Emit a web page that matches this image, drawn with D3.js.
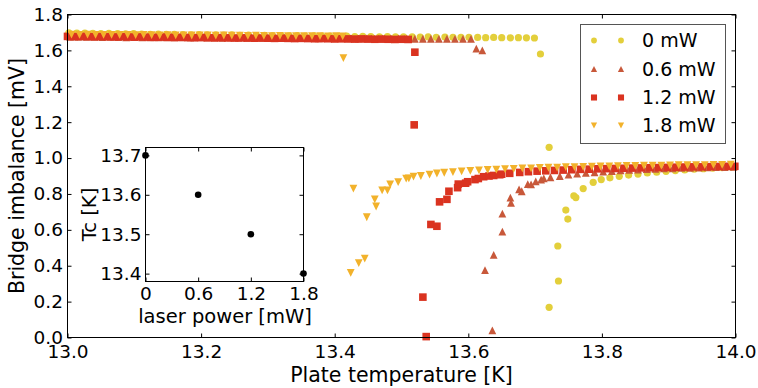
<!DOCTYPE html>
<html><head><meta charset="utf-8">
<script src="https://cdn.jsdelivr.net/npm/d3@7/dist/d3.min.js"></script>
<style>
html,body{margin:0;padding:0;background:#fff;}
svg{display:block;font-family:"DejaVu Sans",sans-serif;}
</style></head>
<body><svg id="chart" width="758" height="388"></svg>
<script>
// ---------------- data ----------------
const seriesLabels = ["0 mW", "0.6 mW", "1.2 mW", "1.8 mW"];
const seriesColors = ["#e3cf3b", "#c8583a", "#da3320", "#f2b22b"];
const seriesShapes = ["circle", "triangleUp", "square", "triangleDown"];

const temp0 = [13.002,13.014,13.026,13.038,13.050,13.062,13.075,13.087,13.099,13.111,13.124,13.136,13.148,13.160,13.173,13.185,13.197,13.209,13.222,13.234,13.246,13.258,13.271,13.283,13.295,13.307,13.320,13.332,13.344,13.356,13.369,13.381,13.393,13.405,13.418,13.430,13.442,13.454,13.467,13.479,13.491,13.503,13.516,13.528,13.540,13.552,13.565,13.577,13.589,13.601,13.614,13.626,13.638,13.650,13.663,13.675,13.687,13.699,
  13.708,13.721,13.721,13.734,13.735,13.746,13.749,13.758,13.761,13.772,13.787,13.799,13.812,13.826,13.840,13.854,13.868,13.882,13.896,13.910,13.924,13.938,13.952,13.966,13.980,13.994];
const imb0 = [1.698,1.696,1.697,1.695,1.694,1.695,1.693,1.692,1.693,1.691,1.690,1.691,1.689,1.690,1.688,1.687,1.688,1.686,1.687,1.685,1.686,1.684,1.685,1.683,1.684,1.682,1.683,1.681,1.682,1.680,1.681,1.679,1.680,1.678,1.679,1.677,1.678,1.677,1.676,1.677,1.675,1.676,1.675,1.674,1.675,1.673,1.674,1.673,1.672,1.673,1.672,1.671,1.672,1.671,1.670,1.671,1.670,1.669,
  1.580,1.060,0.168,0.510,0.315,0.710,0.660,0.790,0.780,0.830,0.865,0.880,0.890,0.898,0.905,0.911,0.917,0.921,0.926,0.930,0.934,0.938,0.941,0.944,0.947,0.950];

const temp06 = [13.004,13.016,13.028,13.040,13.052,13.064,13.076,13.088,13.100,13.112,13.124,13.136,13.148,13.160,13.172,13.184,13.196,13.208,13.220,13.232,13.244,13.256,13.268,13.280,13.292,13.304,13.316,13.328,13.340,13.352,13.364,13.376,13.388,13.400,13.412,13.424,13.436,13.448,13.460,13.472,13.484,13.496,13.508,13.520,13.532,13.544,13.556,13.568,13.580,13.592,13.604,
  13.612,13.621,13.625,13.636,13.638,13.651,13.651,13.663,13.664,13.676,13.680,13.689,13.694,13.701,13.709,13.713,13.723,13.737,13.750,13.763,13.776,13.789,13.802,13.815,13.828,13.841,13.854,13.867,13.880,13.893,13.906,13.919,13.932,13.945,13.958,13.971,13.984,13.997];
const imb06 = [1.676,1.675,1.676,1.675,1.674,1.675,1.674,1.673,1.674,1.673,1.673,1.672,1.673,1.672,1.672,1.671,1.672,1.671,1.671,1.670,1.671,1.670,1.670,1.669,1.670,1.669,1.669,1.668,1.669,1.668,1.668,1.667,1.668,1.667,1.667,1.667,1.666,1.667,1.666,1.666,1.666,1.665,1.666,1.665,1.665,1.665,1.664,1.665,1.664,1.664,1.664,
  1.610,1.600,0.375,0.040,0.460,0.590,0.690,0.780,0.750,0.825,0.815,0.855,0.853,0.870,0.880,0.887,0.893,0.900,0.908,0.913,0.917,0.921,0.925,0.928,0.931,0.934,0.936,0.938,0.940,0.942,0.943,0.945,0.946,0.947,0.948,0.949,0.950,0.951];

const temp12 = [13.000,13.010,13.020,13.030,13.040,13.050,13.060,13.070,13.080,13.090,13.100,13.110,13.120,13.130,13.140,13.150,13.160,13.170,13.180,13.190,13.200,13.210,13.220,13.230,13.240,13.250,13.260,13.270,13.280,13.290,13.300,13.310,13.320,13.330,13.340,13.350,13.360,13.370,13.380,13.390,13.400,13.410,13.420,13.430,13.440,13.450,13.460,13.470,13.480,13.490,13.500,13.510,
  13.520,13.519,13.532,13.537,13.544,13.553,13.557,13.568,13.571,13.584,13.585,13.596,13.599,13.610,13.615,13.623,13.631,13.638,13.647,13.650,13.662,13.677,13.690,13.703,13.716,13.729,13.742,13.755,13.768,13.781,13.794,13.807,13.820,13.833,13.846,13.859,13.872,13.885,13.898,13.911,13.924,13.937,13.950,13.963,13.976,13.989,13.999];
const imb12 = [1.678,1.677,1.678,1.677,1.676,1.677,1.676,1.675,1.676,1.675,1.674,1.675,1.674,1.673,1.674,1.673,1.672,1.673,1.672,1.671,1.672,1.671,1.670,1.671,1.670,1.669,1.670,1.669,1.668,1.669,1.668,1.667,1.668,1.667,1.666,1.667,1.666,1.665,1.666,1.665,1.664,1.665,1.664,1.663,1.664,1.663,1.662,1.663,1.662,1.661,1.662,1.661,
  1.590,1.185,0.225,0.005,0.630,0.620,0.756,0.770,0.815,0.835,0.855,0.860,0.868,0.880,0.886,0.896,0.900,0.903,0.907,0.910,0.915,0.920,0.924,0.927,0.929,0.931,0.933,0.935,0.937,0.938,0.940,0.941,0.942,0.943,0.944,0.945,0.946,0.947,0.948,0.949,0.950,0.951,0.951,0.952,0.953,0.954,0.954];

const temp18 = [13.006,13.018,13.030,13.042,13.054,13.066,13.078,13.090,13.102,13.114,13.126,13.138,13.150,13.162,13.174,13.186,13.198,13.210,13.222,13.234,13.246,13.258,13.270,13.282,13.294,13.306,13.318,13.330,13.342,13.354,13.366,13.378,13.390,13.402,13.412,
  13.413,13.424,13.428,13.436,13.445,13.448,13.460,13.462,13.471,13.479,13.483,13.495,13.507,13.511,13.518,13.529,13.542,13.553,13.564,13.577,13.590,13.603,13.616,13.629,13.642,13.655,13.668,13.681,13.694,13.707,13.720,13.733,13.746,13.759,13.772,13.785,13.798,13.811,13.824,13.837,13.850,13.863,13.876,13.889,13.902,13.915,13.928,13.941,13.954,13.967,13.980,13.993];
const imb18 = [1.688,1.687,1.688,1.687,1.686,1.687,1.686,1.686,1.685,1.686,1.685,1.684,1.685,1.684,1.684,1.683,1.684,1.683,1.682,1.683,1.682,1.682,1.681,1.682,1.681,1.680,1.681,1.680,1.680,1.679,1.680,1.679,1.678,1.679,1.678,
  1.557,0.360,0.830,0.415,0.440,0.670,0.770,0.730,0.820,0.820,0.853,0.866,0.885,0.887,0.896,0.900,0.908,0.914,0.918,0.922,0.926,0.929,0.931,0.934,0.936,0.938,0.940,0.942,0.943,0.945,0.946,0.947,0.949,0.950,0.951,0.952,0.953,0.954,0.955,0.956,0.956,0.957,0.958,0.958,0.959,0.960,0.960,0.961,0.961,0.962,0.962,0.963];

const seriesTemps = [temp0, temp06, temp12, temp18];
const seriesImb = [imb0, imb06, imb12, imb18];

const xTicks = [13.0, 13.2, 13.4, 13.6, 13.8, 14.0];
const yTicks = [0.0, 0.2, 0.4, 0.6, 0.8, 1.0, 1.2, 1.4, 1.6, 1.8];

// inset
const laserPower = [0, 0.6, 1.2, 1.8];
const tcValues = [13.7, 13.6, 13.5, 13.4];
const insetXTicks = [0, 0.6, 1.2, 1.8];
const insetXTickLabels = ["0", "0.6", "1.2", "1.8"];
const insetYTicks = [13.4, 13.5, 13.6, 13.7];

// ---------------- drawing ----------------
const svg = d3.select("#chart");
const M = {left: 67.5, right: 735.5, top: 14.5, bottom: 337.5};
const x = d3.scaleLinear().domain([13, 14]).range([M.left, M.right]);
const y = d3.scaleLinear().domain([0, 1.8]).range([M.bottom, M.top]);

const tickFont = 18.5, labelFont = 20.5;

function markerPath(shape, s) {
  const h = s / 2;
  if (shape === "circle") return d3.symbol(d3.symbolCircle, Math.PI * h * h)();
  if (shape === "square") return `M${-h},${-h}H${h}V${h}H${-h}Z`;
  if (shape === "triangleUp") return `M0,${-h}L${h},${h}L${-h},${h}Z`;
  return `M0,${h}L${h},${-h}L${-h},${-h}Z`;
}
const markerSize = [7.2, 7.8, 7.6, 7.8];

const plotG = svg.append("g");
seriesTemps.forEach((temps, i) => {
  const pts = temps.map((t, j) => [t, seriesImb[i][j]]);
  plotG.append("g").selectAll("path").data(pts).join("path")
    .attr("d", markerPath(seriesShapes[i], markerSize[i]))
    .attr("transform", d => `translate(${x(d[0])},${y(d[1])})`)
    .attr("fill", seriesColors[i]);
});

// axes (matplotlib classic: ticks inward on all sides)
const tl = 4;
const axG = svg.append("g");
axG.append("g").attr("transform", `translate(0,${M.bottom})`)
  .call(d3.axisBottom(x).tickValues(xTicks).tickFormat(d3.format(".1f")).tickSizeInner(-tl).tickSizeOuter(0).tickPadding(7));
axG.append("g").attr("transform", `translate(0,${M.top})`)
  .call(d3.axisTop(x).tickValues(xTicks).tickFormat("").tickSizeInner(-tl).tickSizeOuter(0));
axG.append("g").attr("transform", `translate(${M.left},0)`)
  .call(d3.axisLeft(y).tickValues(yTicks).tickFormat(d3.format(".1f")).tickSizeInner(-tl).tickSizeOuter(0).tickPadding(4.5));
axG.append("g").attr("transform", `translate(${M.right},0)`)
  .call(d3.axisRight(y).tickValues(yTicks).tickFormat("").tickSizeInner(-tl).tickSizeOuter(0));
axG.selectAll(".domain").remove();
axG.selectAll("text").attr("font-size", tickFont).attr("font-family", "DejaVu Sans").attr("fill", "#000");
axG.selectAll(".tick line").attr("stroke", "#000");
svg.append("rect").attr("x", M.left).attr("y", M.top).attr("width", M.right - M.left).attr("height", M.bottom - M.top)
  .attr("fill", "none").attr("stroke", "#000").attr("stroke-width", 1);

svg.append("text").attr("x", (M.left + M.right) / 2).attr("y", 382).attr("text-anchor", "middle")
  .attr("font-size", labelFont).text("Plate temperature [K]");
svg.append("text").attr("transform", `translate(24,${(M.top + M.bottom) / 2}) rotate(-90)`).attr("text-anchor", "middle")
  .attr("font-size", labelFont).text("Bridge imbalance [mV]");

// legend
const lg = svg.append("g");
lg.append("rect").attr("x", 580.5).attr("y", 24.5).attr("width", 145).attr("height", 119)
  .attr("fill", "#fff").attr("stroke", "#555").attr("stroke-width", 1);
const rowY = [40.5, 69, 97.5, 125.5];
seriesLabels.forEach((lab, i) => {
  [594, 621].forEach(mx => {
    lg.append("path").attr("d", markerPath(seriesShapes[i], markerSize[i] * 0.8))
      .attr("transform", `translate(${mx},${rowY[i]})`).attr("fill", seriesColors[i]);
  });
  lg.append("text").attr("x", 642).attr("y", rowY[i]).attr("dy", "0.36em")
    .attr("font-size", 19).text(lab);
});

// inset
const IN = {left: 145.5, right: 303.5, top: 147.5, bottom: 281.5};
const ix = d3.scaleLinear().domain([0, 1.8]).range([IN.left, IN.right]);
const iy = d3.scaleLinear().domain([13.38, 13.72]).range([IN.bottom, IN.top]);
const ig = svg.append("g");
ig.append("rect").attr("x", IN.left).attr("y", IN.top).attr("width", IN.right - IN.left).attr("height", IN.bottom - IN.top)
  .attr("fill", "#fff");
const iax = ig.append("g");
iax.append("g").attr("transform", `translate(0,${IN.bottom})`)
  .call(d3.axisBottom(ix).tickValues(insetXTicks).tickFormat((d, i) => insetXTickLabels[i]).tickSizeInner(-tl).tickSizeOuter(0).tickPadding(5));
iax.append("g").attr("transform", `translate(0,${IN.top})`)
  .call(d3.axisTop(ix).tickValues(insetXTicks).tickFormat("").tickSizeInner(-tl).tickSizeOuter(0));
iax.append("g").attr("transform", `translate(${IN.left},0)`)
  .call(d3.axisLeft(iy).tickValues(insetYTicks).tickFormat(d3.format(".1f")).tickSizeInner(-tl).tickSizeOuter(0).tickPadding(4));
iax.append("g").attr("transform", `translate(${IN.right},0)`)
  .call(d3.axisRight(iy).tickValues(insetYTicks).tickFormat("").tickSizeInner(-tl).tickSizeOuter(0));
iax.selectAll(".domain").remove();
iax.selectAll("text").attr("font-size", tickFont).attr("font-family", "DejaVu Sans").attr("fill", "#000");
iax.selectAll(".tick line").attr("stroke", "#000");
ig.append("rect").attr("x", IN.left).attr("y", IN.top).attr("width", IN.right - IN.left).attr("height", IN.bottom - IN.top)
  .attr("fill", "none").attr("stroke", "#000");
ig.selectAll("circle.tc").data(laserPower.map((p, i) => [p, tcValues[i]])).join("circle")
  .attr("class", "tc").attr("cx", d => ix(d[0])).attr("cy", d => iy(d[1])).attr("r", 3.3).attr("fill", "#000");
ig.append("text").attr("x", (IN.left + IN.right) / 2 + 0.5).attr("y", 323).attr("text-anchor", "middle")
  .attr("font-size", labelFont - 1).text("laser power [mW]");
ig.append("text").attr("transform", `translate(96,${(IN.top + IN.bottom) / 2}) rotate(-90)`).attr("text-anchor", "middle")
  .attr("font-size", labelFont - 1).text("Tc [K]");
</script></body></html>
